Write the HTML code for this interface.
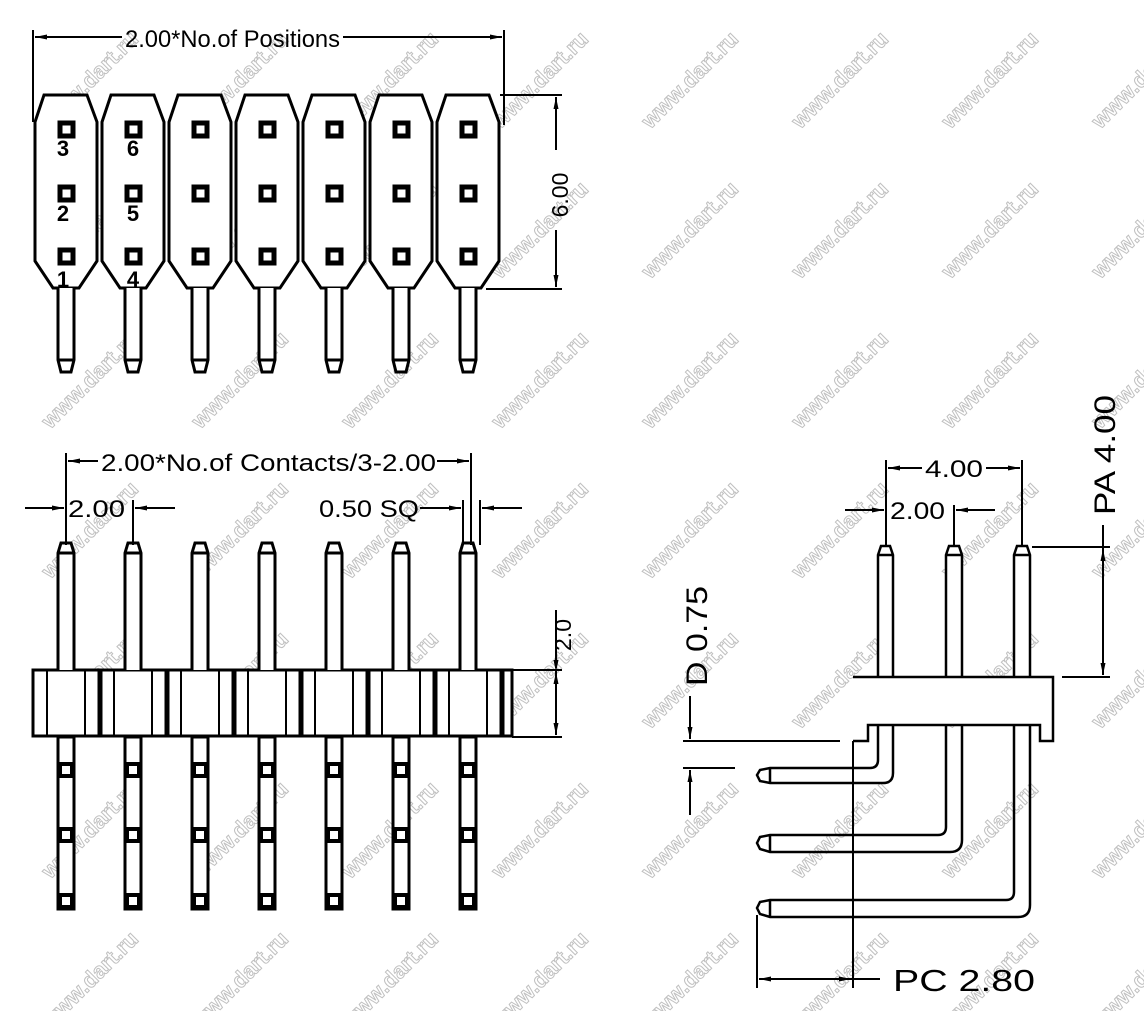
<!DOCTYPE html>
<html><head><meta charset="utf-8"><style>
html,body{margin:0;padding:0;background:#fff;}
svg{display:block;}
text{font-family:"Liberation Sans",Arial,sans-serif;fill:#000;}
</style></head><body>
<svg width="1144" height="1011" viewBox="0 0 1144 1011" xmlns="http://www.w3.org/2000/svg">
<defs>
<pattern id="wm" width="150" height="150" patternUnits="userSpaceOnUse" x="20" y="10">
<text x="0" y="0" transform="translate(75,75) rotate(-45)" text-anchor="middle" font-size="22" font-weight="bold" style="fill:none;stroke:#c0c0c0;stroke-width:1">www.dart.ru</text>
</pattern>
<marker id="a" viewBox="0 0 12 6" refX="12" refY="3" markerWidth="12" markerHeight="6" orient="auto" markerUnits="userSpaceOnUse"><path d="M0,0.5 L12,3 L0,5.5 Z" fill="#000"/></marker>
<g id="hs">
<path d="M-22,-97 L21,-97 L31,-70 L31,69 L13,96 L-13,96 L-31,69 L-31,-70 Z" fill="#fff" stroke="#000" stroke-width="3"/>
<rect x="-6" y="-69" width="13" height="13" fill="#fff" stroke="#000" stroke-width="5"/>
<rect x="-6" y="-5" width="13" height="13" fill="#fff" stroke="#000" stroke-width="5"/>
<rect x="-6" y="58" width="13" height="13" fill="#fff" stroke="#000" stroke-width="5"/>
<path d="M-8,96 L-8,168 L-5,180 L5,180 L8,168 L8,96 M-8,168 L8,168" fill="#fff" stroke="#000" stroke-width="3"/>
</g>
<g id="fp">
<path d="M-8,670 L-8,553 L-5,543 L5,543 L8,553 L8,670 M-8,553 L8,553" fill="#fff" stroke="#000" stroke-width="3"/>
<rect x="-8" y="737" width="16" height="172" fill="#fff" stroke="#000" stroke-width="3"/>
<rect x="-8" y="762" width="16" height="16" fill="#000"/><rect x="-4" y="766" width="8" height="8" fill="#fff"/>
<rect x="-8" y="827" width="16" height="16" fill="#000"/><rect x="-4" y="831" width="8" height="8" fill="#fff"/>
<rect x="-8" y="893" width="16" height="16" fill="#000"/><rect x="-4" y="897" width="8" height="8" fill="#fff"/>
<line x1="-19" y1="671" x2="-19" y2="735" stroke="#000" stroke-width="2"/>
<line x1="19" y1="671" x2="19" y2="735" stroke="#000" stroke-width="2"/>
<line x1="34" y1="671" x2="34" y2="735" stroke="#000" stroke-width="5"/>
</g>
</defs>
<rect width="1144" height="1011" fill="url(#wm)"/>

<!-- TOP VIEW -->
<g stroke="#000" stroke-width="2" fill="none">
<line x1="33" y1="30" x2="33" y2="122"/>
<line x1="504" y1="30" x2="504" y2="125"/>
<line x1="122" y1="37" x2="35" y2="37" marker-end="url(#a)"/>
<line x1="343" y1="37" x2="502" y2="37" marker-end="url(#a)"/>
<line x1="500" y1="95" x2="562" y2="95"/>
<line x1="486" y1="289" x2="562" y2="289"/>
<line x1="556" y1="150" x2="556" y2="97" marker-end="url(#a)"/>
<line x1="556" y1="230" x2="556" y2="287" marker-end="url(#a)"/>
</g>
<text x="125" y="47" font-size="24" textLength="215" lengthAdjust="spacingAndGlyphs">2.00*No.of Positions</text>
<text transform="translate(568,195) rotate(-90)" font-size="23" text-anchor="middle">6.00</text>
<use href="#hs" x="66" y="192"/><use href="#hs" x="133" y="192"/><use href="#hs" x="200" y="192"/>
<use href="#hs" x="267" y="192"/><use href="#hs" x="334" y="192"/><use href="#hs" x="401" y="192"/><use href="#hs" x="468" y="192"/>
<g font-size="22" font-weight="bold" text-anchor="middle">
<text x="63" y="156">3</text><text x="63" y="221">2</text><text x="63" y="287">1</text>
<text x="133" y="156">6</text><text x="133" y="221">5</text><text x="133" y="287">4</text>
</g>

<!-- FRONT VIEW -->
<rect x="33" y="670" width="479" height="66" fill="#fff" stroke="#000" stroke-width="3"/>
<use href="#fp" x="66"/><use href="#fp" x="133"/><use href="#fp" x="200"/><use href="#fp" x="267"/>
<use href="#fp" x="334"/><use href="#fp" x="401"/><use href="#fp" x="468"/>
<g stroke="#000" stroke-width="2" fill="none">
<line x1="66" y1="453" x2="66" y2="545"/>
<line x1="133" y1="500" x2="133" y2="545"/>
<line x1="471" y1="453" x2="471" y2="545"/>
<line x1="463" y1="500" x2="463" y2="545"/>
<line x1="480" y1="500" x2="480" y2="545"/>
<line x1="98" y1="461" x2="68" y2="461" marker-end="url(#a)"/>
<line x1="437" y1="461" x2="469" y2="461" marker-end="url(#a)"/>
<line x1="25" y1="508" x2="64" y2="508" marker-end="url(#a)"/>
<line x1="175" y1="508" x2="135" y2="508" marker-end="url(#a)"/>
<line x1="420" y1="508" x2="461" y2="508" marker-end="url(#a)"/>
<line x1="522" y1="508" x2="482" y2="508" marker-end="url(#a)"/>
<line x1="512" y1="670" x2="562" y2="670"/>
<line x1="512" y1="737" x2="562" y2="737"/>
<line x1="556" y1="610" x2="556" y2="668"/>
<line x1="556" y1="670" x2="556" y2="672" marker-end="url(#a)"/>
<line x1="556" y1="705" x2="556" y2="672" marker-end="url(#a)"/>
<line x1="556" y1="705" x2="556" y2="735" marker-end="url(#a)"/>
</g>
<text x="101" y="471" font-size="24" textLength="335" lengthAdjust="spacingAndGlyphs">2.00*No.of Contacts/3-2.00</text>
<text x="68" y="517" font-size="24" textLength="57" lengthAdjust="spacingAndGlyphs">2.00</text>
<text x="319" y="517" font-size="24" textLength="100" lengthAdjust="spacingAndGlyphs">0.50 SQ</text>
<text transform="translate(571,635) rotate(-90)" font-size="23" text-anchor="middle">2.0</text>

<!-- SIDE VIEW -->
<g stroke="#000" stroke-width="2.5" fill="#fff">
<path d="M878,677 L878,555 L881,546 L890,546 L893,555 L893,677 M878,555 L893,555"/>
<path d="M946,677 L946,555 L949,546 L959,546 L962,555 L962,677 M946,555 L962,555"/>
<path d="M1014,677 L1014,555 L1017,546 L1027,546 L1030,555 L1030,677 M1014,555 L1030,555"/>
<path d="M853,677 L1053,677 L1053,741 L1040,741 L1040,725 L868,725 L868,741 L853,741"/>
<path d="M878,725 L878,760 Q878,768 870,768 L770,768 L760,770 L757,775 L760,781 L770,783 L883,783 Q893,783 893,773 L893,725 M770,768 L770,783" fill="none"/>
<path d="M946,725 L946,827 Q946,835 938,835 L770,835 L760,837 L757,843 L760,849 L770,852 L950,852 Q962,852 962,840 L962,725 M770,835 L770,852" fill="none"/>
<path d="M1014,725 L1014,892 Q1014,900 1006,900 L770,900 L760,902 L757,908 L760,914 L770,917 L1018,917 Q1030,917 1030,905 L1030,725 M770,900 L770,917" fill="none"/>
</g>
<g stroke="#000" stroke-width="2" fill="none">
<line x1="853" y1="741" x2="853" y2="988"/>
<line x1="757" y1="915" x2="757" y2="988"/>
<line x1="886" y1="460" x2="886" y2="545"/>
<line x1="954" y1="505" x2="954" y2="545"/>
<line x1="1022" y1="460" x2="1022" y2="545"/>
<line x1="922" y1="468" x2="888" y2="468" marker-end="url(#a)"/>
<line x1="986" y1="468" x2="1020" y2="468" marker-end="url(#a)"/>
<line x1="845" y1="510" x2="884" y2="510" marker-end="url(#a)"/>
<line x1="995" y1="510" x2="956" y2="510" marker-end="url(#a)"/>
<line x1="1032" y1="547" x2="1110" y2="547"/>
<line x1="1062" y1="677" x2="1110" y2="677"/>
<line x1="1103" y1="525" x2="1103" y2="612"/>
<line x1="1103" y1="600" x2="1103" y2="549" marker-end="url(#a)"/>
<line x1="1103" y1="610" x2="1103" y2="675" marker-end="url(#a)"/>
<line x1="683" y1="741" x2="840" y2="741"/>
<line x1="683" y1="768" x2="735" y2="768"/>
<line x1="690" y1="696" x2="690" y2="739" marker-end="url(#a)"/>
<line x1="690" y1="815" x2="690" y2="770" marker-end="url(#a)"/>
<line x1="800" y1="979" x2="759" y2="979" marker-end="url(#a)"/>
<line x1="800" y1="979" x2="851" y2="979" marker-end="url(#a)"/>
<line x1="851" y1="979" x2="880" y2="979"/>
</g>
<text x="925" y="477" font-size="24" textLength="58" lengthAdjust="spacingAndGlyphs">4.00</text>
<text x="890" y="519" font-size="24" textLength="55" lengthAdjust="spacingAndGlyphs">2.00</text>
<text transform="translate(1115,515) rotate(-90)" font-size="30" textLength="120" lengthAdjust="spacingAndGlyphs">PA  4.00</text>
<text transform="translate(707,686) rotate(-90)" font-size="30" textLength="100" lengthAdjust="spacingAndGlyphs">D 0.75</text>
<text x="893" y="991" font-size="31" textLength="142" lengthAdjust="spacingAndGlyphs">PC  2.80</text>
</svg>
</body></html>
